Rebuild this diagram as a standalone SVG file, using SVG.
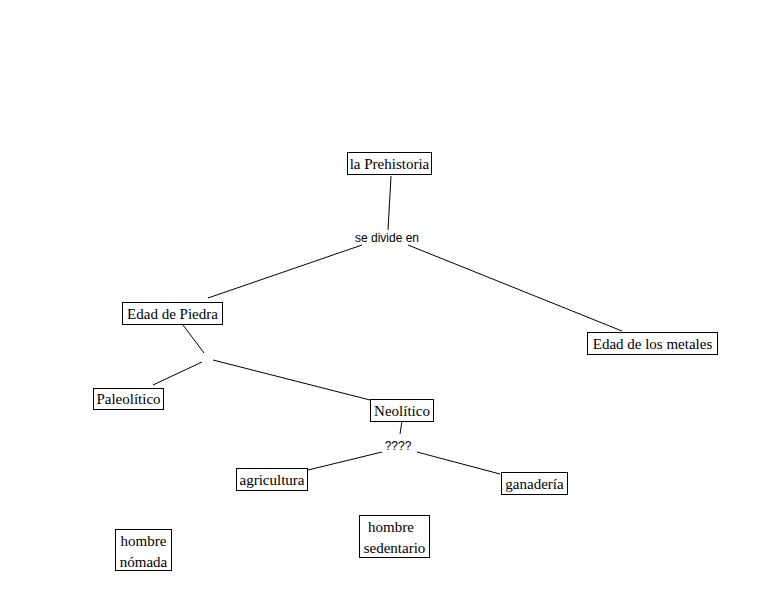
<svg xmlns="http://www.w3.org/2000/svg" width="757" height="612" viewBox="0 0 757 612">
<style>
.box{fill:#fff;stroke:#000;stroke-width:1}
.t{font-family:"Liberation Serif","Times New Roman",serif;font-size:15px;fill:#000;text-anchor:middle}
.l{font-family:"Liberation Sans",Arial,sans-serif;font-size:12px;fill:#000;text-anchor:middle}
.c{stroke:#000;stroke-width:1;fill:none}
</style>
<rect width="757" height="612" fill="#fff"/>
<g id="connectors">
<line class="c" x1="391" y1="176" x2="388" y2="230"/>
<line class="c" x1="362" y1="245" x2="208" y2="298"/>
<line class="c" x1="408" y1="245" x2="622" y2="331"/>
<line class="c" x1="183" y1="325" x2="204" y2="353"/>
<line class="c" x1="202" y1="362" x2="153" y2="385"/>
<line class="c" x1="213" y1="360" x2="370" y2="400"/>
<line class="c" x1="402" y1="421" x2="400" y2="434"/>
<line class="c" x1="382" y1="452" x2="308" y2="470"/>
<line class="c" x1="417" y1="452" x2="500" y2="474"/>
</g>
<g id="n-prehistoria"><rect class="box" x="347.5" y="152.5" width="84" height="22"/><text class="t" x="389.5" y="169">la Prehistoria</text></g>
<g id="l-divide"><text class="l" x="387" y="242">se divide en</text></g>
<g id="n-piedra"><rect class="box" x="122.5" y="302.5" width="100" height="22"/><text class="t" x="172.5" y="319">Edad de Piedra</text></g>
<g id="n-metales"><rect class="box" x="587.5" y="332.5" width="130" height="22"/><text class="t" x="652.5" y="349">Edad de los metales</text></g>
<g id="n-paleolitico"><rect class="box" x="93.5" y="388.5" width="70" height="21"/><text class="t" x="128.5" y="404">Paleolítico</text></g>
<g id="n-neolitico"><rect class="box" x="370.5" y="399.5" width="63" height="22"/><text class="t" x="402" y="416">Neolítico</text></g>
<g id="l-q"><text class="l" x="398" y="450">????</text></g>
<g id="n-agricultura"><rect class="box" x="236.5" y="468.5" width="71" height="22"/><text class="t" x="272" y="485">agricultura</text></g>
<g id="n-ganaderia"><rect class="box" x="501.5" y="472.5" width="66" height="22"/><text class="t" x="534.5" y="489">ganadería</text></g>
<g id="n-sedentario"><rect class="box" x="359.5" y="515.5" width="70" height="42"/><text class="t" x="391" y="532">hombre</text><text class="t" x="394.5" y="553">sedentario</text></g>
<g id="n-nomada"><rect class="box" x="115.5" y="529.5" width="56" height="41"/><text class="t" x="143.5" y="546">hombre</text><text class="t" x="143.5" y="567">nómada</text></g>
</svg>
